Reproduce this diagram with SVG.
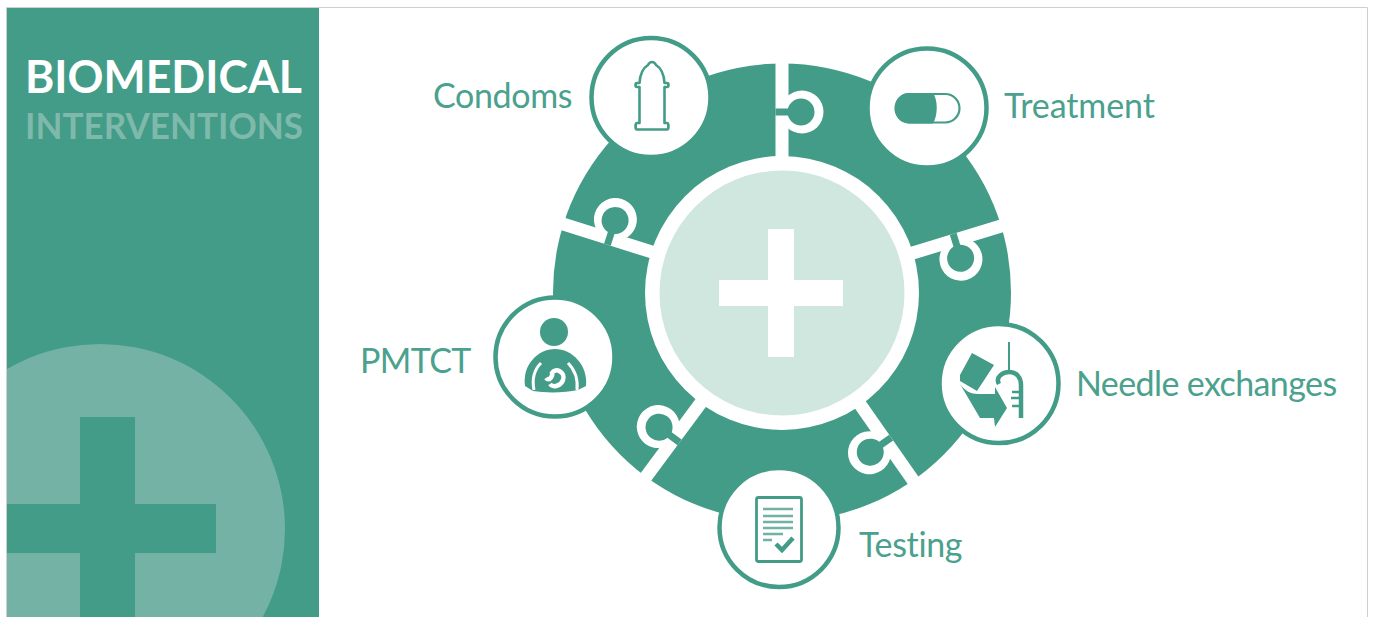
<svg xmlns="http://www.w3.org/2000/svg" width="1373" height="617" viewBox="0 0 1373 617">
<defs>
<clipPath id="panelClip"><rect x="7" y="7" width="312" height="610"/></clipPath>
<g id="knob">
<rect x="-6.500" y="-230" width="13" height="95" fill="#fff"/>
<circle cx="20" cy="-181" r="21.500" fill="#fff"/>
<circle cx="19" cy="-181" r="13.500" fill="#439c87"/>
<rect x="-6.500" y="-184.500" width="20" height="7" fill="#439c87"/>
</g>
</defs>
<style>
.lbl{font-family:Lato,"Open Sans",sans-serif;font-size:34px;fill:#4aa18d;letter-spacing:-0.35px}
.disc{fill:#fff;stroke:#439c87;stroke-width:4.500}
.g{fill:#439c87}
.o{fill:none;stroke:#439c87}
</style>
<rect width="1373" height="617" fill="#fff"/>
<path d="M6.500 617V7.500H1367.500V617" fill="none" stroke="#cfcfcf" stroke-width="1"/>
<g id="panel">
<rect x="7" y="8" width="312" height="609" fill="#439c87"/>
<g clip-path="url(#panelClip)">
<circle cx="100" cy="529" r="185" fill="#73b2a4"/>
<rect x="80" y="417" width="55" height="200" fill="#439c87"/>
<rect x="7" y="504" width="209" height="49" fill="#439c87"/>
</g>
<text x="25" y="93" font-family="Lato,sans-serif" font-size="45" font-weight="700" fill="#fff" textLength="277" lengthAdjust="spacingAndGlyphs">BIOMEDICAL</text>
<text x="25" y="139" font-family="Lato,sans-serif" font-size="37" font-weight="700" fill="#7fb9ab" textLength="278" lengthAdjust="spacingAndGlyphs">INTERVENTIONS</text>
</g>
<g id="ring">
<circle cx="782" cy="292.500" r="229" fill="#439c87"/>
</g>
<g id="connectors">
<use href="#knob" transform="translate(782 293)"/>
<use href="#knob" transform="translate(782 293) rotate(73)"/>
<use href="#knob" transform="translate(782 293) rotate(145)"/>
<use href="#knob" transform="translate(782 293) rotate(216.500)"/>
<use href="#knob" transform="translate(782 293) rotate(287.500)"/>
</g>
<g id="hub">
<circle cx="782" cy="293" r="137" fill="#fff"/>
<circle cx="782" cy="293" r="122.500" fill="#d0e7e0"/>
<rect x="768" y="229" width="26" height="128" fill="#fff"/>
<rect x="719" y="280" width="124" height="26" fill="#fff"/>
</g>
<g id="condoms">
<circle class="disc" cx="651" cy="97.500" r="59.500"/>
<path class="o" stroke-width="2.600" stroke-linejoin="round" d="M652 62C654 62 655 63 656 65C661 68 664 75 664.500 83H667C669 83 669 87 667 87H664.500V123H667C669 123 669 129.500 667 129.500H637C635 129.500 635 123 637 123H639.500V87H637C635 87 635 83 637 83H639.500C640 75 643 68 648 65C649 63 650 62 652 62Z"/>
<text class="lbl" x="433" y="108">Condoms</text>
</g>
<g id="treatment">
<circle class="disc" cx="927" cy="108" r="59.500"/>
<rect x="895.500" y="94" width="64" height="28.500" rx="14.200" fill="#fff" stroke="#439c87" stroke-width="2.200"/>
<path class="g" d="M909 93H933C938 100 938 115 933 123.500H909C899 123.500 895 115 895 108C895 100 900 93 909 93Z"/>
<text class="lbl" x="1004" y="118" style="letter-spacing:-0.1px">Treatment</text>
</g>
<g id="needle-exchanges">
<circle class="disc" cx="999" cy="383.500" r="59.500"/>
<path class="g" d="M972 353L994 365L977 391L960 381V375Z"/>
<path class="g" d="M960 384C965 391 971 394 978 394H995V387L1007 408L995 427L994 418H980Z"/>
<path class="o" stroke-width="2" d="M1009 342V370"/>
<path class="o" stroke-width="4.500" d="M999 384C995 377 1003 372 1009 372C1017 372 1021 378 1021 385V418"/>
<path class="o" stroke-width="2.500" d="M1012 392H1019M1011 398H1019M1012 406H1019"/>
<text class="lbl" x="1076" y="396" style="letter-spacing:-0.6px">Needle exchanges</text>
</g>
<g id="testing">
<circle class="disc" cx="779" cy="527.500" r="59.500"/>
<rect class="o" x="756.500" y="497.500" width="45" height="64" rx="2" stroke-width="2.800"/>
<path d="M763 509H793M763 516H793M763 522H793M763 528H793M763 534H783M763 540H772" fill="none" stroke="#72b2a3" stroke-width="2.500"/>
<path class="o" stroke-width="4.500" d="M776 544L782 550L793 538"/>
<text class="lbl" x="859" y="557">Testing</text>
</g>
<g id="pmtct">
<circle class="disc" cx="555" cy="357" r="59.500"/>
<circle class="g" cx="554" cy="332" r="14"/>
<path class="g" d="M525 386C522 365 538 349 555 349C572 349 588 365 586 386L578 390C565 393 545 393 533 391Z"/>
<path d="M541 363C534 370 532 380 534 390M568 363C575 370 578 380 577 390" fill="none" stroke="#fff" stroke-width="3"/>
<path d="M546 378C549 382 553 376 552 373C555 367 566 372 563 380C561 386 553 388 550 384" fill="none" stroke="#fff" stroke-width="4.500"/>
<text class="lbl" x="360" y="373" style="letter-spacing:-0.6px">PMTCT</text>
</g>
</svg>
